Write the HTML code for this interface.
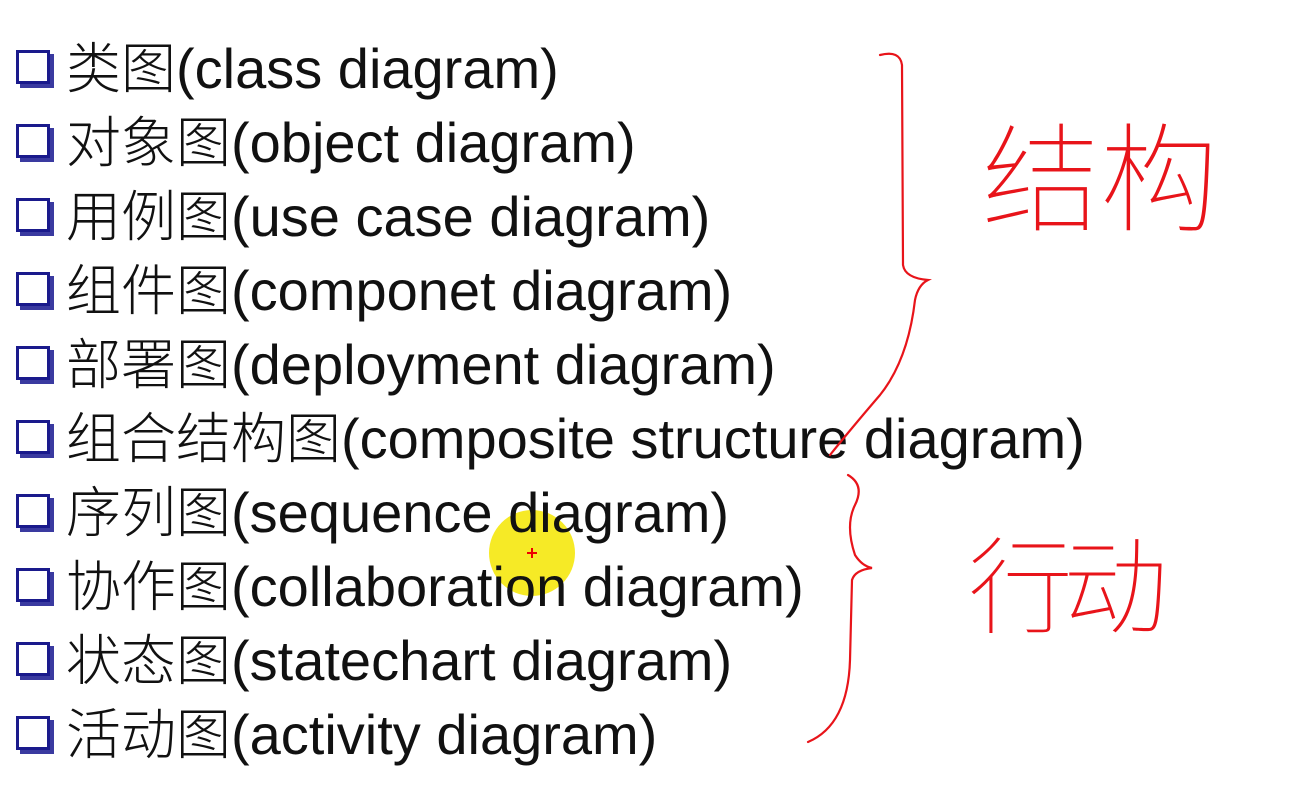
<!DOCTYPE html>
<html><head><meta charset="utf-8"><style>
body{margin:0;width:1301px;height:805px;background:#fff;overflow:hidden;position:relative;font-family:"Liberation Sans","Noto Sans CJK SC",sans-serif;}
.r{position:absolute;left:16px;height:74px;line-height:74px;font-size:56px;color:#111;white-space:nowrap;z-index:2;}
.cb{display:inline-block;width:34px;height:34px;border:3px solid #1a1a8c;box-shadow:4px 4px 0 #3a3aa0;background:#fff;vertical-align:middle;margin-right:16px;position:relative;top:-6px;box-sizing:border-box;}
.c{font-family:"Noto Sans CJK SC",sans-serif;font-weight:300;font-size:55px;}
svg{position:absolute;left:0;top:0}
</style></head><body>
<svg width="1301" height="805" style="z-index:1">
<circle cx="532" cy="553" r="43" fill="#f5e600" opacity="0.85"/>
</svg>
<div class="r" style="top:27px"><span class="cb"></span><span class="c">类图</span>(class diagram)</div>
<div class="r" style="top:101px"><span class="cb"></span><span class="c">对象图</span>(object diagram)</div>
<div class="r" style="top:175px"><span class="cb"></span><span class="c">用例图</span>(use case diagram)</div>
<div class="r" style="top:249px"><span class="cb"></span><span class="c">组件图</span>(componet diagram)</div>
<div class="r" style="top:323px"><span class="cb"></span><span class="c">部署图</span>(deployment diagram)</div>
<div class="r" style="top:397px"><span class="cb"></span><span class="c">组合结构图</span>(composite structure diagram)</div>
<div class="r" style="top:471px"><span class="cb"></span><span class="c">序列图</span>(sequence diagram)</div>
<div class="r" style="top:545px"><span class="cb"></span><span class="c">协作图</span>(collaboration diagram)</div>
<div class="r" style="top:619px"><span class="cb"></span><span class="c">状态图</span>(statechart diagram)</div>
<div class="r" style="top:693px"><span class="cb"></span><span class="c">活动图</span>(activity diagram)</div>
<svg width="1301" height="805" style="z-index:3">
<path d="M527 553h10M532 548v10" stroke="#e00" stroke-width="2"/>
<g fill="none" stroke="#e8141a" stroke-width="2.2" stroke-linecap="round">
<path d="M880 55 Q900 50 902 65 L903 265 Q905 278 928 280 Q918 285 915 300 Q908 360 880 395 Q850 430 830 455"/>
<path d="M848 475 Q865 485 855 505 Q845 525 855 555 Q862 566 872 568 Q855 570 852 580 L850 660 Q848 725 808 742"/>
</g>
<text x="982" y="222" font-size="118" fill="#e8141a" font-family="Noto Sans CJK SC,sans-serif" font-weight="100">结构</text>
<text x="968" y="625" font-size="105" fill="#e8141a" font-family="Noto Sans CJK SC,sans-serif" font-weight="100" letter-spacing="-10">行动</text>
</svg>
</body></html>
